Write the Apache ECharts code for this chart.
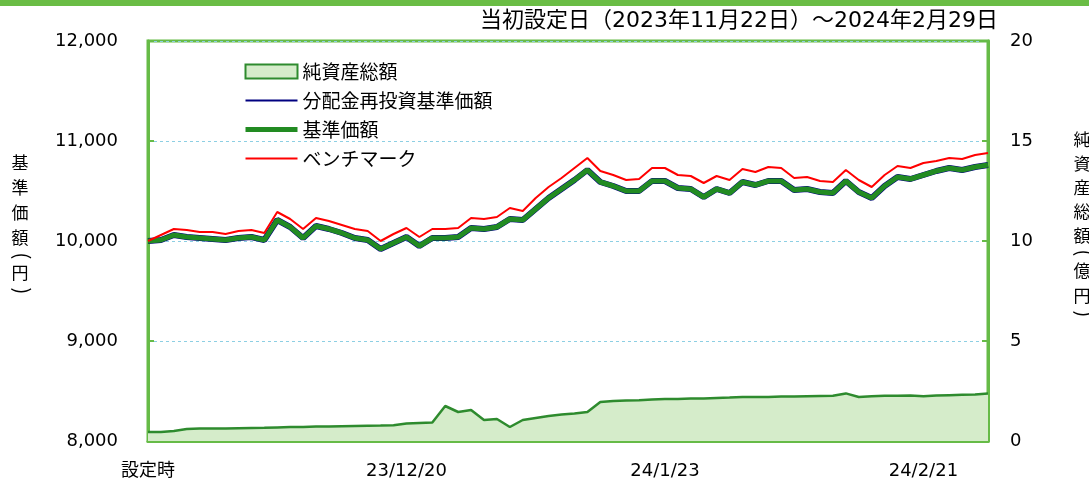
<!DOCTYPE html>
<html lang="ja">
<head>
    <meta charset="UTF-8">
    <title>基準価額の推移</title>
</head>
<style type="text/css">
    body{
        margin:0;
        background:#fff;
    }
    .fund-chart{
        width: 1089px;
        height: 487px;
    }
</style>
<body>
    <div class="fund-chart"></div>
</body>
<script type="text/javascript" src="https://cdn.jsdelivr.net/npm/echarts@6/dist/echarts.min.js"></script>
<script type="text/javascript">
var FONT = '"Noto Sans CJK JP", "Noto Sans", sans-serif';
// 数字は幅の広いDejaVu、和文はNoto
var NUM_FONT = '"DejaVu Sans", "Noto Sans CJK JP", sans-serif';
var AXIS_GREEN = '#66bb47';

var dates = [
    '設定時', '23/11/23', '23/11/24', '23/11/27', '23/11/28', '23/11/29', '23/11/30', '23/12/1', '23/12/4', '23/12/5',
    '23/12/6', '23/12/7', '23/12/8', '23/12/11', '23/12/12', '23/12/13', '23/12/14', '23/12/15', '23/12/18', '23/12/19',
    '23/12/20', '23/12/21', '23/12/22', '23/12/25', '23/12/26', '23/12/27', '23/12/28', '23/12/29', '24/1/4', '24/1/5',
    '24/1/9', '24/1/10', '24/1/11', '24/1/12', '24/1/15', '24/1/16', '24/1/17', '24/1/18', '24/1/19', '24/1/22',
    '24/1/23', '24/1/24', '24/1/25', '24/1/26', '24/1/29', '24/1/30', '24/1/31', '24/2/1', '24/2/2', '24/2/5',
    '24/2/6', '24/2/7', '24/2/8', '24/2/9', '24/2/13', '24/2/14', '24/2/15', '24/2/16', '24/2/19', '24/2/20',
    '24/2/21', '24/2/22', '24/2/26', '24/2/27', '24/2/28', '24/2/29'
];

// 基準価額（円）
var nav = [
    10000, 10010, 10060, 10040, 10030, 10020, 10010, 10030, 10040, 10010,
    10210, 10140, 10030, 10150, 10120, 10080, 10030, 10010, 9920, 9980,
    10040, 9950, 10030, 10030, 10040, 10130, 10120, 10140, 10220, 10210,
    10320, 10430, 10520, 10610, 10710, 10590, 10550, 10500, 10500, 10600,
    10600, 10530, 10520, 10440, 10520, 10480, 10590, 10560, 10600, 10600,
    10510, 10520, 10490, 10480, 10600, 10490, 10430, 10550, 10640, 10620,
    10660, 10700, 10730, 10710, 10740, 10760
];

// 分配金再投資基準価額（分配なしのため基準価額と同じ）
var navReinvest = nav.slice();

// ベンチマーク
var bench = [
    10000, 10060, 10120, 10110, 10090, 10090, 10070, 10100, 10110, 10080,
    10290, 10220, 10120, 10230, 10200, 10160, 10120, 10100, 10000, 10070,
    10130, 10040, 10120, 10120, 10130, 10230, 10220, 10240, 10330, 10300,
    10430, 10540, 10630, 10730, 10830, 10700, 10660, 10610, 10620, 10730,
    10730, 10660, 10650, 10580, 10650, 10610, 10720, 10690, 10740, 10730,
    10630, 10640, 10600, 10590, 10710, 10610, 10540, 10660, 10750, 10730,
    10780, 10800, 10830, 10820, 10860, 10880
];

// 純資産総額（億円）
var netAssets = [
    0.45, 0.45, 0.5, 0.6, 0.62, 0.63, 0.63, 0.64, 0.65, 0.66,
    0.68, 0.7, 0.7, 0.72, 0.73, 0.74, 0.75, 0.76, 0.77, 0.79,
    0.88, 0.9, 0.92, 1.75, 1.45, 1.55, 1.05, 1.1, 0.7, 1.05,
    1.15, 1.25, 1.32, 1.38, 1.45, 1.95, 2.0, 2.02, 2.04, 2.08,
    2.1, 2.1, 2.12, 2.13, 2.15, 2.17, 2.2, 2.2, 2.2, 2.22,
    2.22, 2.24, 2.25, 2.26, 2.38, 2.2, 2.24, 2.26, 2.26, 2.27,
    2.24, 2.27, 2.29, 2.31, 2.33, 2.38
];

// 縦書きの軸名（括弧は回転させて縦書き風に）
function verticalName(chars, x, ys) {
    return chars.map(function(c, i) {
        var isParen = (c === '(' || c === ')');
        return {
            type: 'text',
            x: isParen ? x + 3 : x,
            y: ys[i],
            rotation: isParen ? -Math.PI / 2 : 0,
            style: {
                text: c,
                font: (isParen ? '20px ' : '17px ') + FONT,
                fill: '#000',
                align: 'center',
                verticalAlign: 'middle'
            }
        };
    });
}

var graphics = [
    {type: 'rect', shape: {x: 0, y: 0, width: 1089, height: 6}, style: {fill: '#6abd45'}},
    {
        type: 'text', x: 998, y: 21,
        style: {text: '当初設定日（2023年11月22日）～2024年2月29日', font: '22px ' + NUM_FONT, fill: '#000', align: 'right', verticalAlign: 'middle'}
    }
];
graphics = graphics
    .concat(verticalName(['基', '準', '価', '額', '(', '円', ')'], 20, [163, 188, 213, 238, 256, 273, 291]))
    .concat(verticalName(['純', '資', '産', '総', '額', '(', '億', '円', ')'], 1082, [140, 164, 188, 212, 236, 253, 271, 296, 314]));

var option = {
    animation: false,
    textStyle: {fontFamily: FONT},
    grid: {
        left: 148, right: 101, top: 41, bottom: 46,
        show: true, borderColor: AXIS_GREEN, borderWidth: 3, backgroundColor: 'transparent'
    },
    legend: {
        orient: 'vertical',
        left: 238,
        top: 57,
        itemWidth: 52,
        itemHeight: 14,
        itemGap: 10,
        textStyle: {fontSize: 19, lineHeight: 19, color: '#000', fontFamily: FONT},
        data: [
            {name: '純資産総額', icon: 'rect', itemStyle: {color: '#d5ecca', borderColor: '#2e8b2e', borderWidth: 2}},
            {name: '分配金再投資基準価額', itemStyle: {opacity: 0}, lineStyle: {width: 2}},
            {name: '基準価額', itemStyle: {opacity: 0}, lineStyle: {width: 5}},
            {name: 'ベンチマーク', itemStyle: {opacity: 0}, lineStyle: {width: 2}}
        ]
    },
    xAxis: {
        type: 'category',
        boundaryGap: false,
        data: dates,
        axisLine: {lineStyle: {color: AXIS_GREEN, width: 3}},
        axisTick: {inside: true, interval: 19, length: 6, lineStyle: {color: AXIS_GREEN, width: 2}},
        axisLabel: {interval: 19, margin: 21, fontSize: 18, color: '#000', fontFamily: NUM_FONT},
        splitLine: {show: false}
    },
    yAxis: [
        {
            type: 'value',
            min: 8000, max: 12000, interval: 1000,
            axisLine: {show: true, lineStyle: {color: AXIS_GREEN, width: 3}},
            axisTick: {show: true, inside: true, length: 6, lineStyle: {color: AXIS_GREEN, width: 2}},
            axisLabel: {
                margin: 30, fontSize: 18, color: '#000', fontFamily: NUM_FONT,
                formatter: function(v) { return v.toLocaleString('en-US'); }
            },
            splitLine: {lineStyle: {color: '#8dcfe3', type: [3, 3], width: 1}}
        },
        {
            type: 'value',
            min: 0, max: 20, interval: 5,
            axisLine: {show: true, lineStyle: {color: AXIS_GREEN, width: 3}},
            axisTick: {show: true, inside: true, length: 6, lineStyle: {color: AXIS_GREEN, width: 2}},
            axisLabel: {margin: 22, fontSize: 18, color: '#000', fontFamily: NUM_FONT},
            splitLine: {show: false}
        }
    ],
    series: [
        {
            name: '純資産総額',
            type: 'line',
            yAxisIndex: 1,
            data: netAssets,
            symbol: 'none',
            lineStyle: {color: '#2e8b2e', width: 2.5},
            itemStyle: {color: '#2e8b2e'},
            areaStyle: {color: '#d5ecca', opacity: 1}
        },
        {
            name: '分配金再投資基準価額',
            type: 'line',
            data: navReinvest,
            symbol: 'none',
            lineStyle: {color: '#000080', width: 6},
            itemStyle: {color: '#000080'},
            z: 3
        },
        {
            name: '基準価額',
            type: 'line',
            data: nav,
            symbol: 'none',
            lineStyle: {color: '#228b22', width: 5},
            itemStyle: {color: '#228b22'},
            z: 4
        },
        {
            name: 'ベンチマーク',
            type: 'line',
            data: bench,
            symbol: 'none',
            lineStyle: {color: '#ff0000', width: 2},
            itemStyle: {color: '#ff0000'},
            z: 5
        }
    ],
    graphic: graphics
};

var myChart = echarts.init(document.querySelector('.fund-chart'));
myChart.setOption(option);
</script>
</html>
